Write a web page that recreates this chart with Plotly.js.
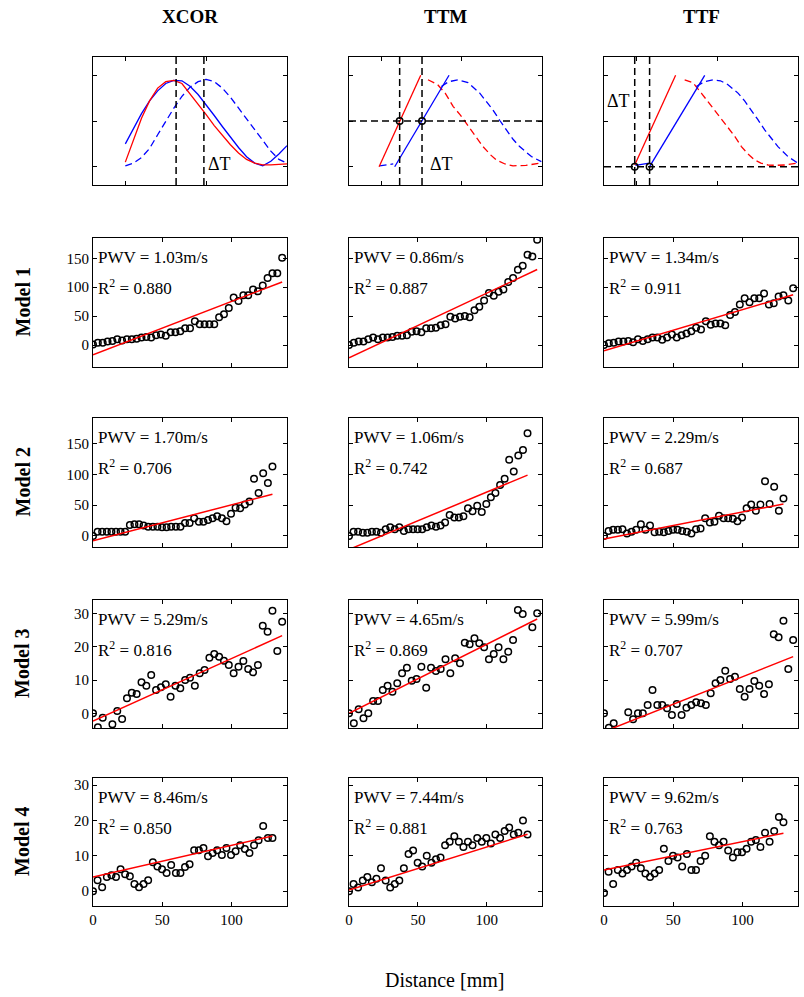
<!DOCTYPE html>
<html><head><meta charset="utf-8">
<script src="https://cdn.plot.ly/plotly-3.0.1.min.js"></script>
<style>html,body{margin:0;padding:0;background:#fff}#chart{width:804px;height:997px}</style>
</head><body><div id="chart"></div>
<script>
// ---------- DATA ----------
const methods = ['XCOR','TTM','TTF'];
const models = ['Model 1','Model 2','Model 3','Model 4'];

// waveform illustrations (normalized time / amplitude)
const tGrid = [0,0.05,0.1,0.15,0.2,0.25,0.3,0.35,0.4,0.45,0.5,0.55,0.6,0.65,0.7,0.75,0.8,0.85,0.9,0.95,1.0];
const xcorRed = [0.05,0.29,0.53,0.72,0.86,0.93,0.945,0.91,0.80,0.68,0.57,0.45,0.34,0.24,0.15,0.08,0.04,0.02,0.02,0.025,0.03];
const xcorBlue = [0.25,0.42,0.58,0.72,0.83,0.91,0.945,0.94,0.88,0.79,0.68,0.56,0.44,0.32,0.21,0.11,0.04,0.01,0.06,0.14,0.23];
const xcorBlueShift = [0.01,0.04,0.10,0.20,0.35,0.50,0.64,0.77,0.87,0.93,0.955,0.93,0.86,0.76,0.64,0.52,0.40,0.28,0.17,0.08,0.04];
const xcorMarks = [0.314,0.486];

const ttmRedUpX = [-0.013,0.246], ttmRedUpY = [0.0,1.0];
const ttmBlueUpX = [0.084,0.422], ttmBlueUpY = [0.0,1.0];
const ttmBlueFootX = [-0.01,0.03,0.075], ttmBlueFootY = [0.01,0.02,0.03];
const ttmRedDownX = [0.291,0.35,0.40,0.447,0.49,0.53,0.58,0.633,0.68,0.716,0.77,0.82,0.9,0.985];
const ttmRedDownY = [0.951,0.90,0.80,0.66,0.57,0.476,0.35,0.22,0.13,0.074,0.03,0.01,0.015,0.038];
const ttmBlueDownX = [0.374,0.42,0.478,0.54,0.613,0.695,0.74,0.778,0.82,0.861,0.934,0.996];
const ttmBlueDownY = [0.878,0.93,0.951,0.92,0.805,0.62,0.50,0.40,0.30,0.22,0.111,0.056];
const ttmMarks = [0.115,0.254], ttmLevel = 0.5;

const ttfRedUpX = [-0.01,0.243], ttfRedUpY = [0.019,1.0];
const ttfBlueUpX = [0.082,0.423], ttfBlueUpY = [0.0,1.0];
const ttfBlueFootX = [-0.005,0.04,0.08], ttfBlueFootY = [0.015,0.03,0.04];
const ttfRedDownX = [0.299,0.35,0.402,0.44,0.484,0.525,0.567,0.61,0.65,0.69,0.732,0.77,0.814,0.86,0.918,0.99];
const ttfRedDownY = [0.951,0.92,0.805,0.72,0.622,0.53,0.439,0.33,0.22,0.14,0.074,0.04,0.019,0.015,0.019,0.037];
const ttfBlueDownX = [0.371,0.42,0.474,0.52,0.567,0.629,0.67,0.711,0.75,0.794,0.835,0.876,0.938,1.0];
const ttfBlueDownY = [0.878,0.93,0.951,0.94,0.897,0.805,0.72,0.622,0.52,0.403,0.31,0.22,0.111,0.038];
const ttfMarks = [-0.01,0.082], ttfLevel = 0.0;

// distance arrays [mm]
const distA = [0,3.5,7,10.5,14,17.5,21,24.5,28,31.5,35,38.5,42,45.5,49,52.5,56,59.5,63,66.5,70,73.5,77,80.5,84,87.5,91,94.5,98,101.5,105,108.5,112,115.5,119,122.5,126,129.5,133,136.5];
const distB = [0,3.3,6.6,10,13.3,16.6,19.9,23.2,26.6,29.9,33.2,36.5,39.8,43.2,46.5,49.8,53.1,56.4,59.8,63.1,66.4,69.7,73,76.4,79.7,83,86.3,89.6,93,96.3,99.6,102.9,106.2,109.6,112.9,116.2,119.5,122.8,126.2,129.5];

// delays (y values) per model / method
const m1XCOR = [1,4,4,6,7,10,8,10,10,11,13,14,13,17,18,16,22,22,24,29,29,41,36,36,36,36,48,53,64,82,76,86,86,96,93,103,116,124,124,151];
const m1TTM  = [0,4,6,6,10,13,10,13,13,14,16,16,17,23,24,22,29,29,30,34,36,49,46,49,50,48,60,66,77,90,85,92,96,109,116,130,137,156,153,182];
const m1TTF  = [0,3,4,6,6,7,5,10,7,10,13,13,9,13,18,13,17,20,24,30,27,41,35,37,37,34,52,57,70,81,74,81,81,89,70,72,84,86,77,98];
const m2XCOR = [0,7,7,7,7,7,7,7,18,19,19,17,15,15,15,14,14,15,15,15,21,21,29,23,23,26,29,32,29,24,36,46,45,51,56,93,70,102,86,113];
const m2TTM  = [0,7,7,5,5,7,7,5,11,14,11,14,8,11,11,11,11,14,17,15,17,22,34,30,30,32,45,40,49,39,52,63,70,83,93,124,105,131,140,167];
const m2TTF  = [0,8,10,10,11,4,7,10,19,10,17,6,7,6,8,10,10,8,7,4,11,12,29,22,23,33,29,29,28,24,30,45,51,41,51,89,52,80,41,61];
const m3XCOR = [0,-4.2,-1.3,null,-3.3,0.7,-1.7,4.5,6.2,5.8,9.3,8.3,11.5,7.0,7.8,8.7,5.0,8.3,7.5,10,10.7,8.3,12,13,16.7,17.8,17,15.8,14.5,12,14,15.7,13.3,12.3,14.5,26.3,24.5,30.8,18.7,27.5];
const m3TTM  = [0,-3,1.2,-1.5,0,3.7,3.7,7,8.3,6.5,9,12,13.7,9.8,10.3,14,7.7,13.7,12.7,13.3,16.2,12,16.5,15,21.2,20.7,22.5,21,19.8,16.2,17.8,19.8,16.2,18.5,22,31,29.8,null,25.8,30];
const m3TTF  = [0,-4.3,-3,null,null,0.3,-1.8,0,0,2.5,7,2.5,2.5,1.5,-0.5,2.8,-0.5,1.7,2.5,3.3,3,2.5,6,9,10,12.8,10.3,11,7.3,5,7.3,9.7,8.3,5.8,8.7,23.7,22.8,27.8,13.3,22];
const m4XCOR = [0,3.1,1.1,4,4.5,4,6.2,4.8,4.2,2,1.1,2,3.1,8.2,7,6.2,5.1,7.4,5.1,5.1,6.8,7.6,11.6,11.6,12.2,9.9,10.8,11.6,10.2,12.2,10.2,11.3,13,11.9,10.8,13,14.4,18.4,15,15];
const m4TTM  = [0,2,1,3,4,2.5,3.5,6.5,3,1,2,3,6.5,10.5,11.5,8,7,10,8,9,9.5,13,14,15.5,14,12.5,14,13,15,14,15,13.5,16,15,17,18,16,16.5,20,16];
const m4TTF  = [-0.5,5.5,2,6,5,6,7,8,6.5,5,4,5,6,12,8.5,10,9.5,7,10.5,6,6,8.5,10,15.5,14,13,14,11.5,9.5,11,11,12,14,14.5,12.5,16.5,14,17,21,19.5];

// fitted regression line end values (y at first / last distance)
const fitStart = [[-17,-22,-10],[-8,-22,-5],[-2.3,0,-5.5],[4,0.3,6]];
const fitEnd   = [[109,130.5,87],[68,99,52],[23.3,28.3,17],[15.6,16.1,16.4]];
const pwvText = [['1.03','0.86','1.34'],['1.70','1.06','2.29'],['5.29','4.65','5.99'],['8.46','7.44','9.62']];
const r2Text  = [['0.880','0.887','0.911'],['0.706','0.742','0.687'],['0.816','0.869','0.707'],['0.850','0.881','0.763']];

const yTicksBig = [0,50,100,150];
const yTicksSmall = [0,10,20,30];
const xTicks = [0,50,100];
const waveTicks = [0,0.5,1];

// ---------- LAYOUT ----------
const W = 804, H = 997;
const FONT = 'Liberation Serif, Times New Roman, serif';
const colPx = [[93,287],[349,542],[604,798]];
const rowPx = [[57,185],[238,367],[418,547],[600,728],[778,906]];
const yRanges = [[-0.2,1.2],[-38,185],[-18,192],[-4.4,34],[-4.2,32]];

const dataSets = [[m1XCOR,m1TTM,m1TTF],[m2XCOR,m2TTM,m2TTF],[m3XCOR,m3TTM,m3TTF],[m4XCOR,m4TTM,m4TTF]];
const distFor = [distA, distB, distA, distB];

const traces = [];
const layout = {
  width: W, height: H, margin: {l:0,r:0,t:0,b:0},
  paper_bgcolor: '#fff', plot_bgcolor: '#fff',
  showlegend: false, font: {family: FONT, color: '#000', size: 15},
  annotations: [], shapes: []
};

function axName(k, a){ return a + (k===1 ? '' : k); }
function axRef(k, a){ return a + (k===1 ? '' : k); }

for (let r = 0; r < 5; r++) {
  for (let c = 0; c < 3; c++) {
    const k = r*3 + c + 1;
    const xd = [colPx[c][0]/W, colPx[c][1]/W];
    const yd = [1 - rowPx[r][1]/H, 1 - rowPx[r][0]/H];
    const common = {showline:true, mirror:'ticks', linecolor:'#000', linewidth:1,
      ticks:'inside', ticklen:4, tickcolor:'#000', tickwidth:1, showgrid:false, zeroline:false,
      tickfont:{family:FONT,size:15,color:'#000'}, fixedrange:true};
    layout[axName(k,'xaxis')] = Object.assign({}, common, {
      domain: xd, anchor: axRef(k,'y'),
      range: r===0 ? [-0.2,1.0] : [0,140],
      tickmode:'array', tickvals: r===0 ? waveTicks : xTicks,
      showticklabels: r===4
    });
    layout[axName(k,'yaxis')] = Object.assign({}, common, {
      domain: yd, anchor: axRef(k,'x'),
      range: yRanges[r],
      tickmode:'array', tickvals: r===0 ? waveTicks : (r<=2 ? yTicksBig : yTicksSmall),
      showticklabels: r>0 && c===0
    });
  }
}

function line(k, x, y, color, dash, width){
  traces.push({type:'scatter', mode:'lines', x:x, y:y, xaxis:axRef(k,'x'), yaxis:axRef(k,'y'),
    line:{color:color, width:width||1.3, dash:dash||'solid'}, hoverinfo:'skip', cliponaxis:true});
}
function circles(k, x, y){
  traces.push({type:'scatter', mode:'markers', x:x, y:y, xaxis:axRef(k,'x'), yaxis:axRef(k,'y'),
    marker:{symbol:'circle-open', size:6.5, color:'#000', line:{width:1.5,color:'#000'}}, hoverinfo:'skip'});
}
const DASH = '7px,4px';
const RED = '#ff0000', BLUE = '#0000ff';
const yr0 = yRanges[0];
const dtFont = {family:FONT,size:18,color:'#000'};

// XCOR illustration
line(1, tGrid, xcorBlueShift, BLUE, DASH);
line(1, tGrid, xcorBlue, BLUE);
line(1, tGrid, xcorRed, RED);
xcorMarks.forEach(m => line(1, [m,m], yr0, '#000', DASH, 1.5));
layout.annotations.push({xref:'x', yref:'y', x:xcorMarks[1]+0.01, y:0.03, text:'\u0394T', showarrow:false,
  xanchor:'left', yanchor:'middle', font:dtFont});

// TTM illustration
line(2, ttmRedDownX, ttmRedDownY, RED, DASH);
line(2, ttmBlueDownX, ttmBlueDownY, BLUE, DASH);
line(2, ttmBlueFootX, ttmBlueFootY, BLUE, DASH);
line(2, ttmRedUpX, ttmRedUpY, RED);
line(2, ttmBlueUpX, ttmBlueUpY, BLUE);
line(2, [-0.2,1.0], [ttmLevel,ttmLevel], '#000', DASH, 1.5);
ttmMarks.forEach(m => line(2, [m,m], yr0, '#000', DASH, 1.5));
circles(2, ttmMarks, [ttmLevel,ttmLevel]);
layout.annotations.push({xref:'x2', yref:'y2', x:0.29, y:0.03, text:'\u0394T', showarrow:false,
  xanchor:'left', yanchor:'middle', font:dtFont});

// TTF illustration
line(3, ttfRedDownX, ttfRedDownY, RED, DASH);
line(3, ttfBlueDownX, ttfBlueDownY, BLUE, DASH);
line(3, ttfBlueFootX, ttfBlueFootY, BLUE);
line(3, ttfRedUpX, ttfRedUpY, RED);
line(3, ttfBlueUpX, ttfBlueUpY, BLUE);
line(3, [-0.2,1.0], [ttfLevel,ttfLevel], '#000', DASH, 1.5);
ttfMarks.forEach(m => line(3, [m,m], yr0, '#000', DASH, 1.5));
circles(3, ttfMarks, [ttfLevel,ttfLevel]);
layout.annotations.push({xref:'x3', yref:'y3', x:-0.195, y:0.72, text:'\u0394T', showarrow:false,
  xanchor:'left', yanchor:'middle', font:dtFont});

// scatter panels
for (let m = 0; m < 4; m++) {
  for (let c = 0; c < 3; c++) {
    const k = (m+1)*3 + c + 1;
    const xs = distFor[m];
    circles(k, xs, dataSets[m][c]);
    line(k, [xs[0], xs[xs.length-1]], [fitStart[m][c], fitEnd[m][c]], RED, 'solid', 1.5);
    layout.annotations.push({xref: axRef(k,'x')+' domain', yref: axRef(k,'y')+' domain', x:0.015, y:0.845,
      xanchor:'left', yanchor:'middle', showarrow:false, text:'PWV = '+pwvText[m][c]+'m/s',
      font:{family:FONT,size:17,color:'#000'}});
    layout.annotations.push({xref: axRef(k,'x')+' domain', yref: axRef(k,'y')+' domain', x:0.015, y:0.62,
      xanchor:'left', yanchor:'middle', showarrow:false, text:'R<sup>2</sup> = '+r2Text[m][c],
      font:{family:FONT,size:17,color:'#000'}});
  }
}

// column titles
const colCenters = colPx.map(p => (p[0]+p[1])/2);
methods.forEach((t,i) => layout.annotations.push({xref:'paper', yref:'paper', x:colCenters[i]/W, y:1-17/H,
  text:t, showarrow:false, xanchor:'center', yanchor:'middle',
  font:{family:FONT,size:19,color:'#000',weight:'bold'}}));
// row labels
models.forEach((t,i) => layout.annotations.push({xref:'paper', yref:'paper', x:22/W,
  y:1-((rowPx[i+1][0]+rowPx[i+1][1])/2)/H, text:t, showarrow:false, textangle:-90,
  xanchor:'center', yanchor:'middle', font:{family:FONT,size:20,color:'#000',weight:'bold'}}));
// x title
layout.annotations.push({xref:'paper', yref:'paper', x:445/W, y:1-980/H, text:'Distance [mm]',
  showarrow:false, xanchor:'center', yanchor:'middle', font:{family:FONT,size:20,color:'#000'}});

Plotly.newPlot('chart', traces, layout, {staticPlot:true, displayModeBar:false});
</script>
</body></html>
